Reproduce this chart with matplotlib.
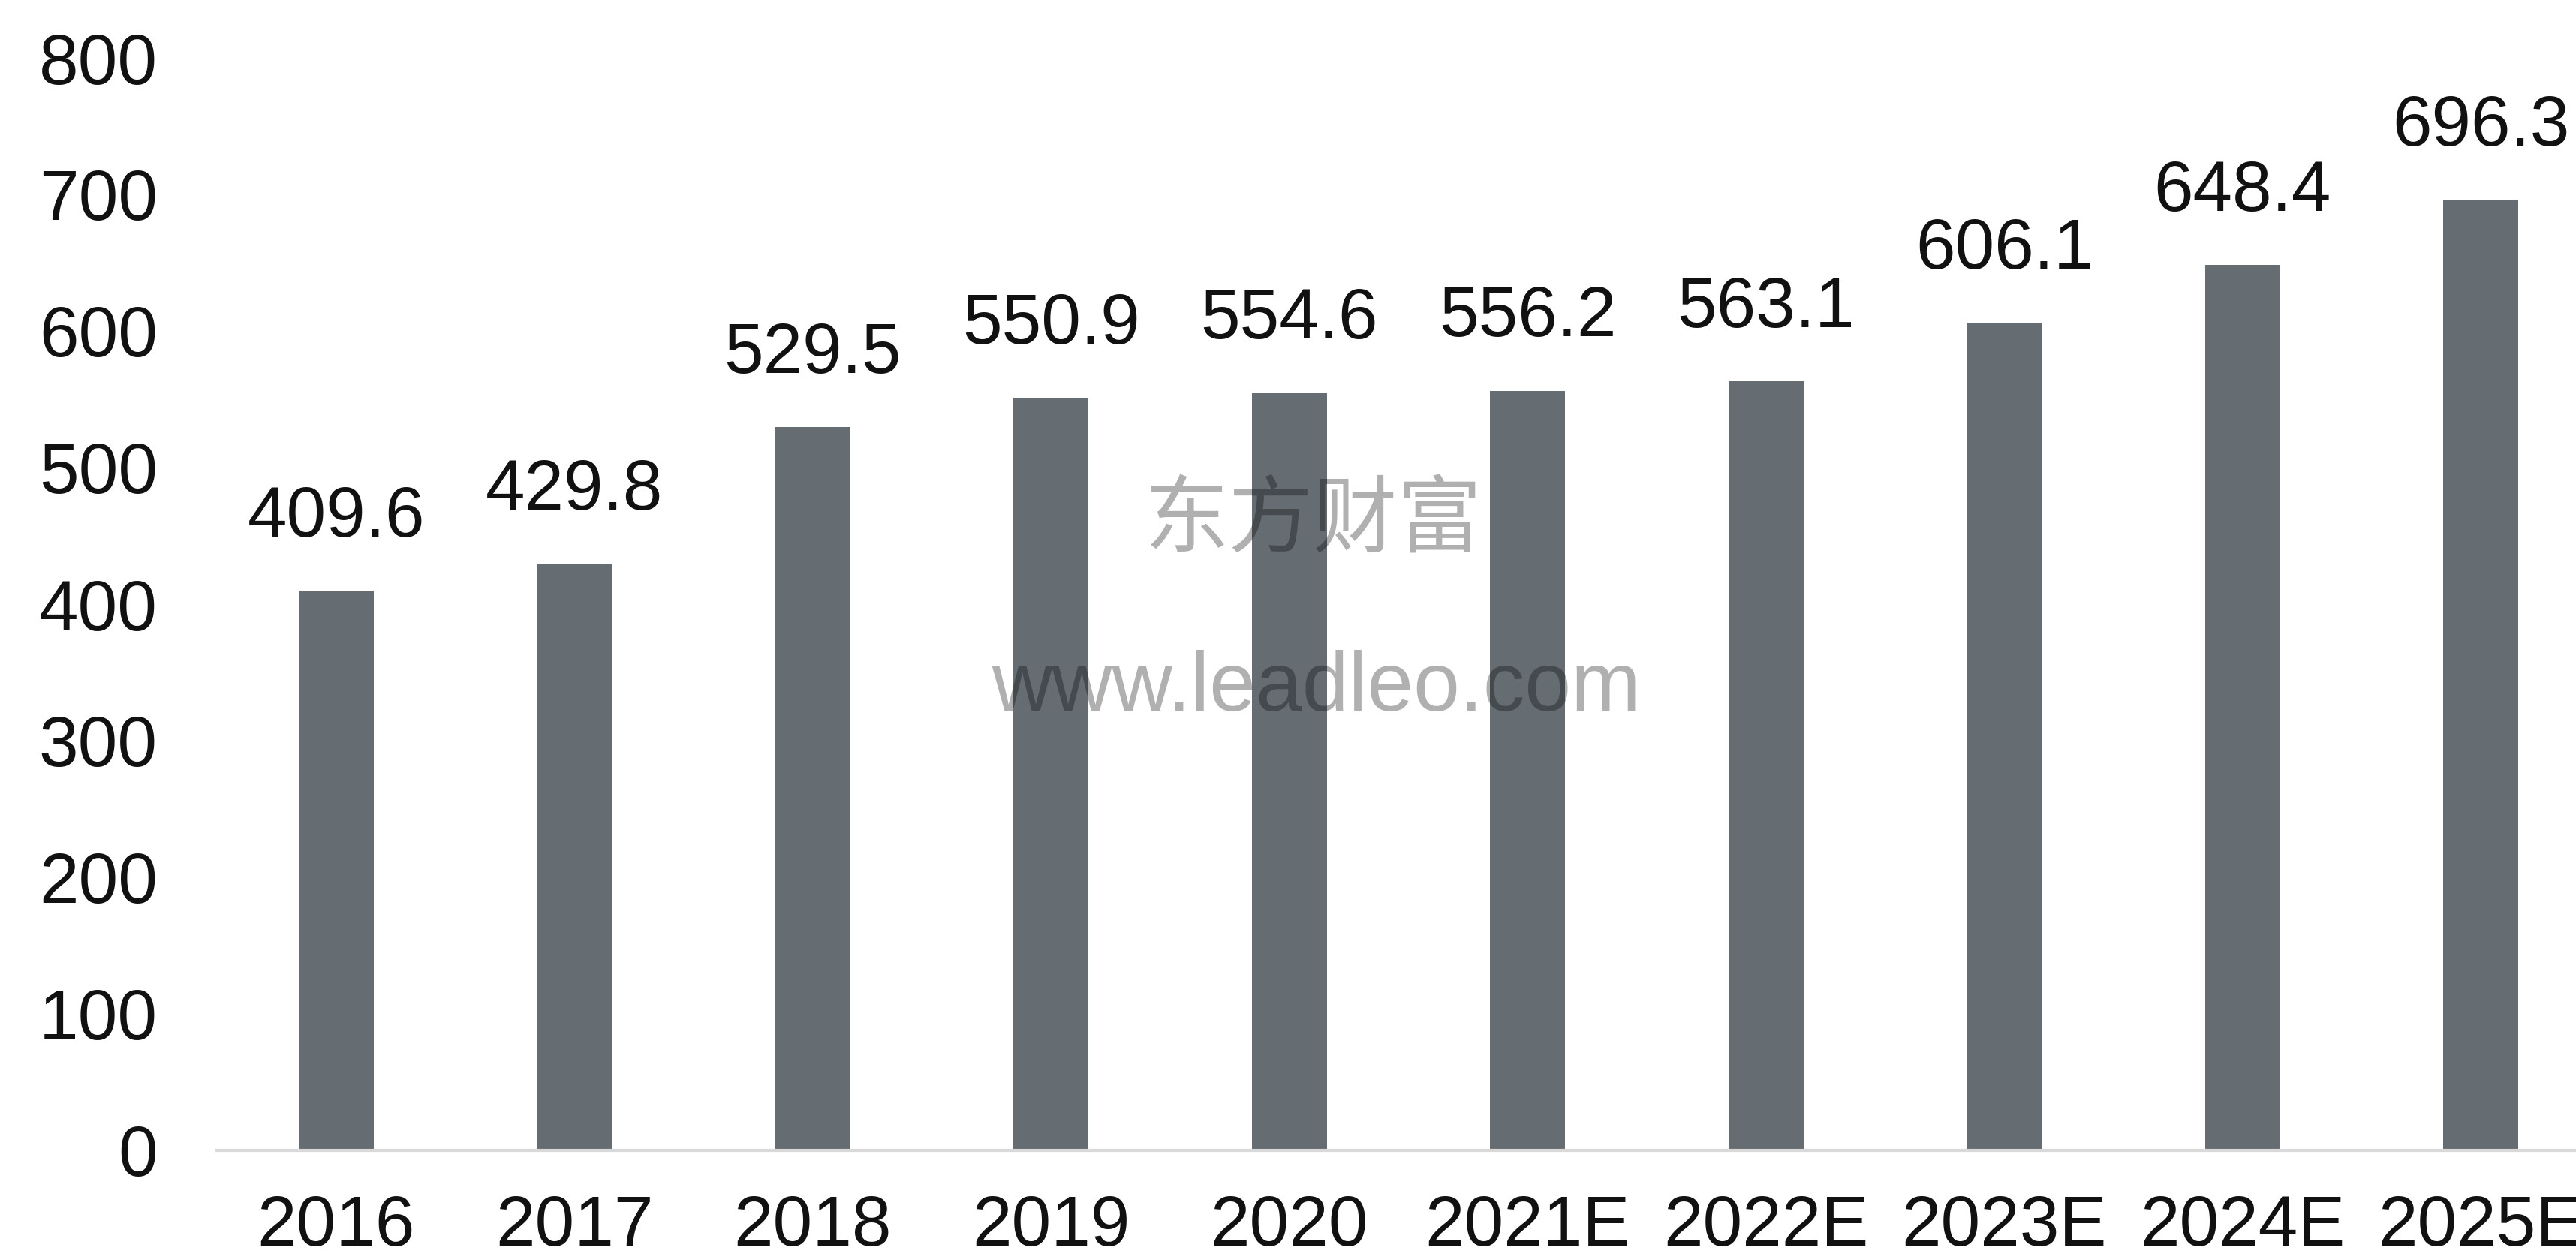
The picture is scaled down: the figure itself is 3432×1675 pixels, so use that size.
import matplotlib
matplotlib.use("Agg")
import matplotlib.pyplot as plt

categories = ["2016", "2017", "2018", "2019", "2020", "2021E", "2022E", "2023E", "2024E", "2025E"]
values = [409.6, 429.8, 529.5, 550.9, 554.6, 556.2, 563.1, 606.1, 648.4, 696.3]
yticks = [0, 100, 200, 300, 400, 500, 600, 700, 800]

plt.rcParams['font.family'] = ['Liberation Sans', 'Noto Sans CJK SC', 'DejaVu Sans']

W, H = 3432, 1675
fig = plt.figure(figsize=(W / 100, H / 100), dpi=100)
ax = fig.add_axes([289 / W, (H - 1533) / H, (3464 - 289) / W, 1456 / H])

x = list(range(len(categories)))
bars = ax.bar(x, values, width=0.315, color="#656C72", zorder=2)

for xi, v in zip(x, values):
    ax.annotate(f"{v:.1f}", (xi, v), xytext=(0, 52), textcoords="offset points",
                ha="center", va="baseline", fontsize=68, color="#111111")

ax.set_xlim(-0.5, len(categories) - 0.5)
ax.set_ylim(0, 800)
ax.set_yticks(yticks)
ax.set_yticklabels([str(t) for t in yticks])
ax.set_xticks(x)
ax.set_xticklabels(categories)
ax.tick_params(axis="both", length=0, labelsize=68, colors="#111111")
ax.tick_params(axis="y", pad=57)
ax.tick_params(axis="x", pad=42)

for s in ["top", "right", "left"]:
    ax.spines[s].set_visible(False)
ax.spines["bottom"].set_color("#D9D9D9")
ax.spines["bottom"].set_linewidth(3)

# watermark
fig.text(1749 / W, 1 - 695 / H, "东方财富", ha="center", va="center",
         fontsize=81, color="black", alpha=0.31,
         family=['Noto Sans CJK SC', 'DejaVu Sans'])
fig.text(1754 / W, 1 - 947 / H, "www.leadleo.com", ha="center", va="baseline",
         fontsize=80, color="black", alpha=0.31, family=['Liberation Sans', 'DejaVu Sans'])

fig.savefig("out.png", dpi=100)
